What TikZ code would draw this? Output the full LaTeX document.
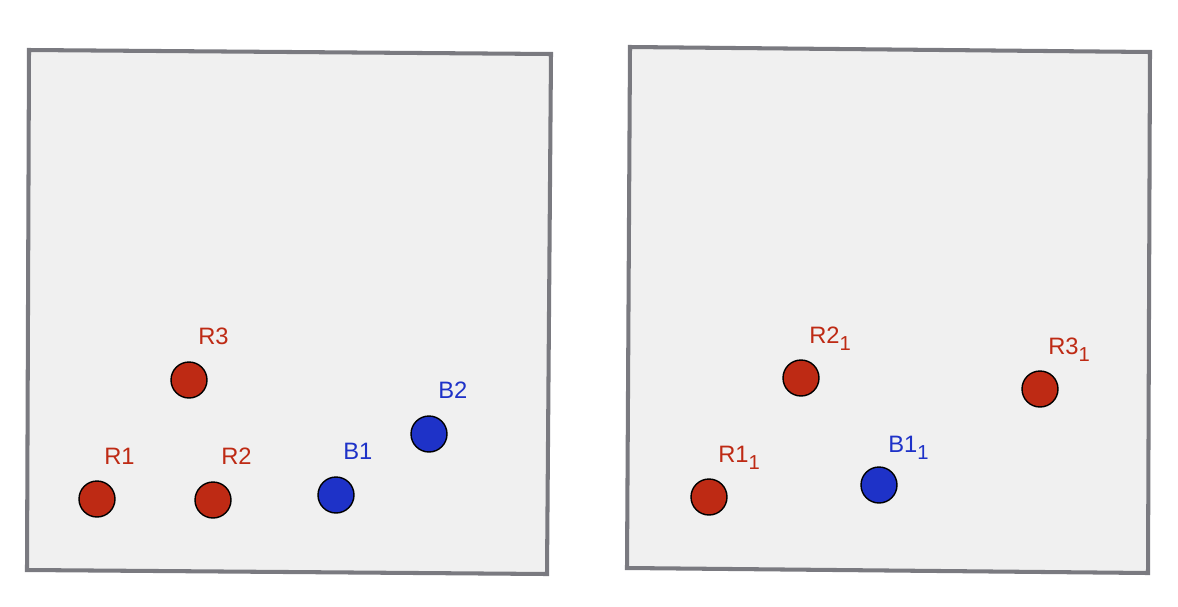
\documentclass[tikz,border=0pt]{standalone}
\usepackage{fontspec}
\setmainfont{Liberation Sans}
\usepackage{tikz}
\usetikzlibrary{positioning}

\definecolor{boxgray}{HTML}{7A7A80}
\definecolor{boxfill}{HTML}{F0F0F0}
\definecolor{dotred}{HTML}{BE2A14}
\definecolor{dotblue}{HTML}{1E32C8}

\newcommand{\idx}[1]{\raisebox{-0.6ex}{\fontsize{11.5}{13}\selectfont #1}}

\begin{document}
\begin{tikzpicture}[
    x=0.02cm, y=-0.02cm,
    frame/.style={draw=boxgray, fill=boxfill, line width=2.3pt, line join=miter},
    dot/.style={circle, draw=black, line width=0.8pt, minimum size=0.72cm, inner sep=0pt},
    rdot/.style={dot, fill=dotred},
    bdot/.style={dot, fill=dotblue},
    lbl/.style={font=\fontsize{13.5}{15}\selectfont, inner sep=0pt, anchor=base west},
    rlbl/.style={lbl, text=dotred},
    blbl/.style={lbl, text=dotblue},
  ]
    \useasboundingbox (0,0) rectangle (1178,606);

    % left panel
    \draw[frame] (29,50) -- (551,54) -- (547,574) -- (27,570) -- cycle;

    \node[rdot] (r1) at (97,499) {};
    \node[rdot] (r2) at (213,500) {};
    \node[rdot] (r3) at (189,380) {};
    \node[bdot] (b1) at (336,495) {};
    \node[bdot] (b2) at (429,434) {};

    \node[rlbl] (r1l) at (104,464) {R1};
    \node[rlbl] (r2l) at (221,464) {R2};
    \node[rlbl] (r3l) at (198,344) {R3};
    \node[blbl] (b1l) at (343,459) {B1};
    \node[blbl] (b2l) at (438,398) {B2};

    % right panel
    \draw[frame] (630,47) -- (1150,52) -- (1148,573) -- (627,568) -- cycle;

    \node[rdot] (q1) at (709,497) {};
    \node[rdot] (q2) at (801,378) {};
    \node[rdot] (q3) at (1040,389) {};
    \node[bdot] (c1) at (879,485) {};

    \node[rlbl] (q1l) at (718,462) {R1\idx{1}};
    \node[rlbl] (q2l) at (809,343) {R2\idx{1}};
    \node[rlbl] (q3l) at (1048,354) {R3\idx{1}};
    \node[blbl] (c1l) at (888,452) {B1\idx{1}};
\end{tikzpicture}
\end{document}
